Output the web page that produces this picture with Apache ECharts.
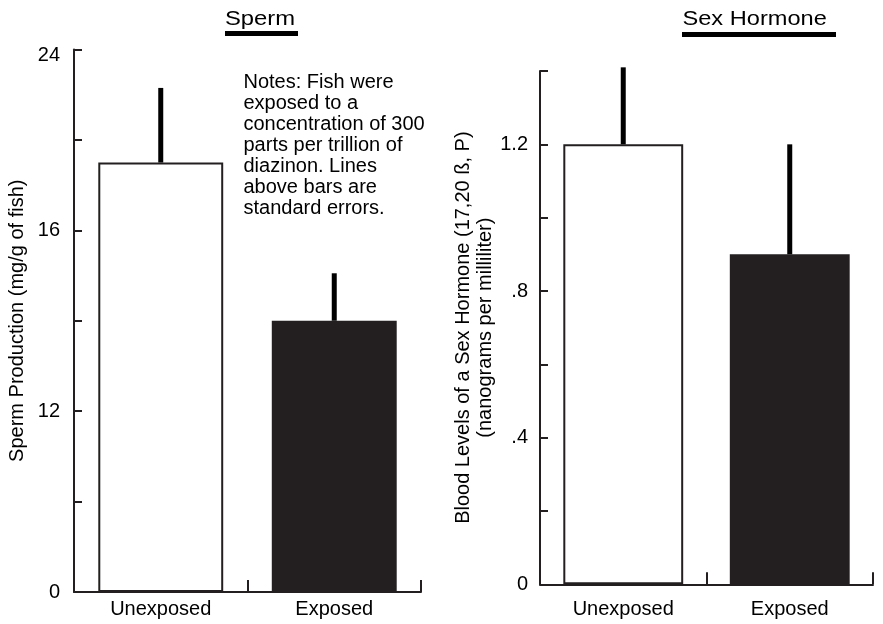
<!DOCTYPE html>
<html><head><meta charset="utf-8">
<script src="https://cdn.jsdelivr.net/npm/echarts@6/dist/echarts.min.js"></script>
<style>html,body{margin:0;padding:0;background:#fff}#c{width:883px;height:624px}</style>
</head><body><div id="c"></div>
<script>
// ---- data ----
const categories = ['Unexposed', 'Exposed'];
// Sperm panel (values on the drawn linear scale, ticks every 4)
const spermMeans = [19.0, 12.0];
const spermErrTops = [22.3, 14.1];
const spermTickLabels = ['0', '', '12', '', '16', '', '24'];
// Sex hormone panel
const hormoneMeans = [1.2, 0.9];
const hormoneErrTops = [1.41, 1.2];
const hormoneTickLabels = ['0', '', '.4', '', '.8', '', '1.2', ''];
const noteLines = ['Notes: Fish were', 'exposed to a', 'concentration of 300', 'parts per trillion of', 'diazinon. Lines', 'above bars are', 'standard errors.'];
const titles = ['Sperm', 'Sex Hormone'];
const yNames = ['Sperm Production (mg/g of fish)', 'Blood Levels of a Sex Hormone (17,20 \u00df, P)\n(nanograms per milliliter)'];

// ---- styles ----
const FONT = '"Liberation Sans", Arial, Helvetica, sans-serif';
const FS = 20;
const DARK = '#231f20';
const barStyles = [
  { color: '#ffffff', borderColor: DARK, borderWidth: 2 },
  { color: DARK, borderColor: DARK, borderWidth: 0 }
];

function errRender(params, api) {
  const base = api.coord([api.value(0), api.value(1)]);
  const top = api.coord([api.value(0), api.value(2)]);
  return { type: 'rect', shape: { x: base[0] - 2.5, y: top[1], width: 5, height: base[1] - top[1] }, style: { fill: '#000' } };
}

function xAxisDef(gridIndex, margin) {
  return {
    type: 'category', gridIndex, data: categories, boundaryGap: true,
    axisLine: { show: true, lineStyle: { color: DARK, width: 2 } },
    axisTick: { show: true, inside: true, length: 12, alignWithLabel: false, lineStyle: { color: DARK, width: 2 } },
    axisLabel: { margin, fontSize: FS, color: '#000', fontFamily: FONT },
    splitLine: { show: false }
  };
}

const chart = echarts.init(document.getElementById('c'), null, { renderer: 'canvas' });
chart.setOption({
  backgroundColor: '#fff',
  animation: false,
  grid: [
    { left: 74, top: 49.5, width: 347, height: 542.5, containLabel: false, outerBoundsMode: 'none' },
    { left: 540, top: 71, width: 333, height: 513.3, containLabel: false, outerBoundsMode: 'none' }
  ],
  xAxis: [xAxisDef(0, 7), xAxisDef(1, 15)],
  yAxis: [
    {
      type: 'value', gridIndex: 0, min: 0, max: 24, interval: 4,
      name: yNames[0], nameLocation: 'middle', nameRotate: 90, nameGap: 47,
      nameTextStyle: { fontSize: FS, color: '#000', fontFamily: FONT },
      axisLine: { show: true, lineStyle: { color: DARK, width: 2 } },
      axisTick: { show: true, inside: true, length: 8, lineStyle: { color: DARK, width: 2 } },
      splitLine: { show: false },
      axisLabel: {
        margin: 14, fontSize: FS, color: '#000', fontFamily: FONT,
        formatter: function (v) {
          const i = Math.round(v / 4);
          const s = spermTickLabels[i] || '';
          return i === spermTickLabels.length - 1 ? '{t|' + s + '}' : s;
        },
        rich: { t: { fontSize: FS, color: '#000', fontFamily: FONT, padding: [12, 0, 0, 0] } }
      }
    },
    {
      type: 'value', gridIndex: 1, min: 0, max: 1.4, interval: 0.2,
      name: yNames[1], nameLocation: 'middle', nameRotate: 90, nameGap: 42,
      nameTextStyle: { fontSize: FS, color: '#000', fontFamily: FONT, lineHeight: 22 },
      axisLine: { show: true, lineStyle: { color: DARK, width: 2 } },
      axisTick: { show: true, inside: true, length: 8, lineStyle: { color: DARK, width: 2 } },
      splitLine: { show: false },
      axisLabel: {
        margin: 12, fontSize: FS, color: '#000', fontFamily: FONT,
        formatter: function (v) { return hormoneTickLabels[Math.round(v / 0.2)] || ''; }
      }
    }
  ],
  series: [
    {
      type: 'bar', xAxisIndex: 0, yAxisIndex: 0, barWidth: '72%', silent: true,
      data: spermMeans.map((v, i) => ({ value: v, itemStyle: barStyles[i] }))
    },
    {
      type: 'custom', xAxisIndex: 0, yAxisIndex: 0, silent: true, z: 5,
      renderItem: errRender, encode: { x: 0, y: [1, 2] },
      data: spermMeans.map((v, i) => [i, v, spermErrTops[i]])
    },
    {
      type: 'bar', xAxisIndex: 1, yAxisIndex: 1, barWidth: '72%', silent: true,
      data: hormoneMeans.map((v, i) => ({ value: v, itemStyle: barStyles[i] }))
    },
    {
      type: 'custom', xAxisIndex: 1, yAxisIndex: 1, silent: true, z: 5,
      renderItem: errRender, encode: { x: 0, y: [1, 2] },
      data: hormoneMeans.map((v, i) => [i, v, hormoneErrTops[i]])
    }
  ],
  graphic: [
    { type: 'text', x: 225, y: 19, scaleX: 1.19, style: { text: titles[0], font: FS + 'px ' + FONT, fill: '#000', textAlign: 'left', verticalAlign: 'middle' } },
    { type: 'rect', shape: { x: 225, y: 31, width: 73, height: 5 }, style: { fill: '#000' } },
    { type: 'text', x: 682.5, y: 19, scaleX: 1.18, style: { text: titles[1], font: FS + 'px ' + FONT, fill: '#000', textAlign: 'left', verticalAlign: 'middle' } },
    { type: 'rect', shape: { x: 682, y: 32, width: 154, height: 5 }, style: { fill: '#000' } },
    { type: 'text', x: 243.5, y: 71.5, style: { text: noteLines.join('\n'), font: FS + 'px ' + FONT, fill: '#000', lineHeight: 21.1, textAlign: 'left', verticalAlign: 'top' } }
  ]
});
</script></body></html>
